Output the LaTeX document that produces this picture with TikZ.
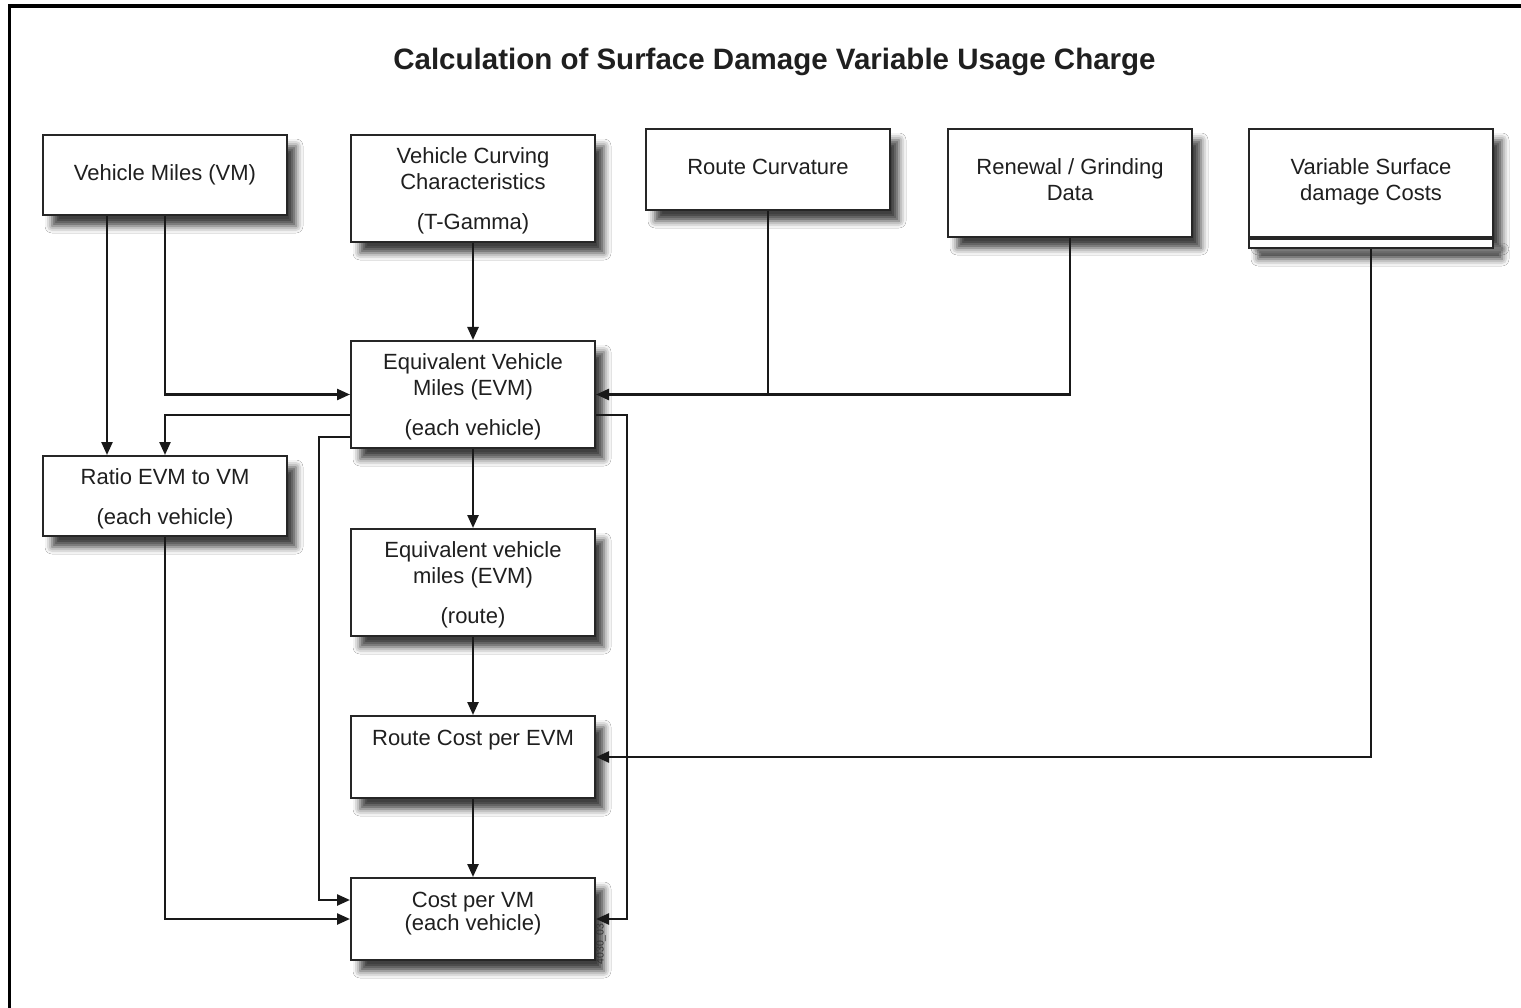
\documentclass[tikz,border=0pt]{standalone}
\usepackage{fontspec}
\setmainfont{Liberation Sans}
\usetikzlibrary{arrows.meta,shadows.blur,calc}
\newcommand{\toppad}{\rule{0pt}{21pt}}
\tikzset{
  box/.style={draw=black!85, line width=2pt, fill=white, inner sep=0pt, align=center,
    text=black!88, font=\fontsize{22}{26}\selectfont, minimum width=244pt,
    blur shadow={shadow xshift=9pt, shadow yshift=-11pt, shadow blur radius=7pt, shadow opacity=75}},
  conn/.style={line width=2.4pt, draw=black!90},
  arr/.style={conn, -{Triangle[length=13pt,width=11pt]}},
}
\begin{document}
\begin{tikzpicture}[x=1pt,y=-1pt]
\useasboundingbox (0,0) rectangle (1521,1008);
\fill[white] (0,0) rectangle (1521,1008);
\draw[line width=3.5pt] (9.5,1010) -- (9.5,6) -- (1523,6);
\node[anchor=base, font=\bfseries\fontsize{29.5}{34}\selectfont, text=black!88] (title) at (774.5,70) {Calculation of Surface Damage Variable Usage Charge};

\node[box, minimum height=80pt] (vm) at (165,175) {Vehicle Miles (VM)};
\node[box, minimum height=107pt] (vcc) at (473,188.5) {\toppad Vehicle Curving\\Characteristics\\[14pt](T-Gamma)};
\node[box, minimum height=81pt] (rc) at (768,169.5) {Route Curvature\\[-20pt]\mbox{}};
\node[box, minimum height=108pt] (ren) at (1070,183) {Renewal / Grinding\\Data\\[-20pt]\mbox{}};
\node[box, minimum height=108pt] (vsc) at (1371,183) {Variable Surface\\damage Costs\\[-20pt]\mbox{}};
\node[box, minimum height=9pt, anchor=north] (vscs) at (vsc.south) {};

\node[box, minimum height=107pt] (evm) at (473,394.5) {\toppad Equivalent Vehicle\\Miles (EVM)\\[14pt](each vehicle)};
\node[box, minimum height=80pt] (ratio) at (165,496) {\rule{0pt}{22pt}Ratio EVM to VM\\[14pt](each vehicle)};
\node[box, minimum height=107pt] (evmr) at (473,582.5) {\toppad Equivalent vehicle\\miles (EVM)\\[14pt](route)};
\node[box, minimum height=82pt] (rcost) at (473,757) {Route Cost per EVM\\[12pt]\mbox{}};
\node[box, minimum height=82pt] (cvm) at (473,919) {Cost per VM\\[-3pt](each vehicle)\\[-11pt]\mbox{}};
\node[rotate=90, font=\fontsize{10.5}{12}\selectfont, text=black!80] (code) at (601,944) {4030\_03};

% connectors
\draw[arr] ([xshift=-58pt]vm.south) -- ([xshift=-58pt]ratio.north);
\draw[arr] (vm.south) |- (evm.west);
\draw[arr] (vcc.south) -- (evm.north);
\draw[conn] (rc.south) -- (rc.south |- evm.east);
\draw[arr] (ren.south) |- (evm.east);
\draw[arr] ([yshift=-20.5pt]evm.west) -| (ratio.north);
\draw[arr] ([yshift=-42.5pt]evm.west) -- ++(-31,0) |- ([yshift=19pt]cvm.west);
\draw[arr] ([yshift=-20.5pt]evm.east) -- ++(31,0) |- (cvm.east);
\draw[arr] (evm.south) -- (evmr.north);
\draw[arr] (evmr.south) -- (rcost.north);
\draw[arr] (rcost.south) -- (cvm.north);
\draw[arr] (vscs.south) |- (rcost.east);
\draw[arr] (ratio.south) |- (cvm.west);
\end{tikzpicture}
\end{document}
